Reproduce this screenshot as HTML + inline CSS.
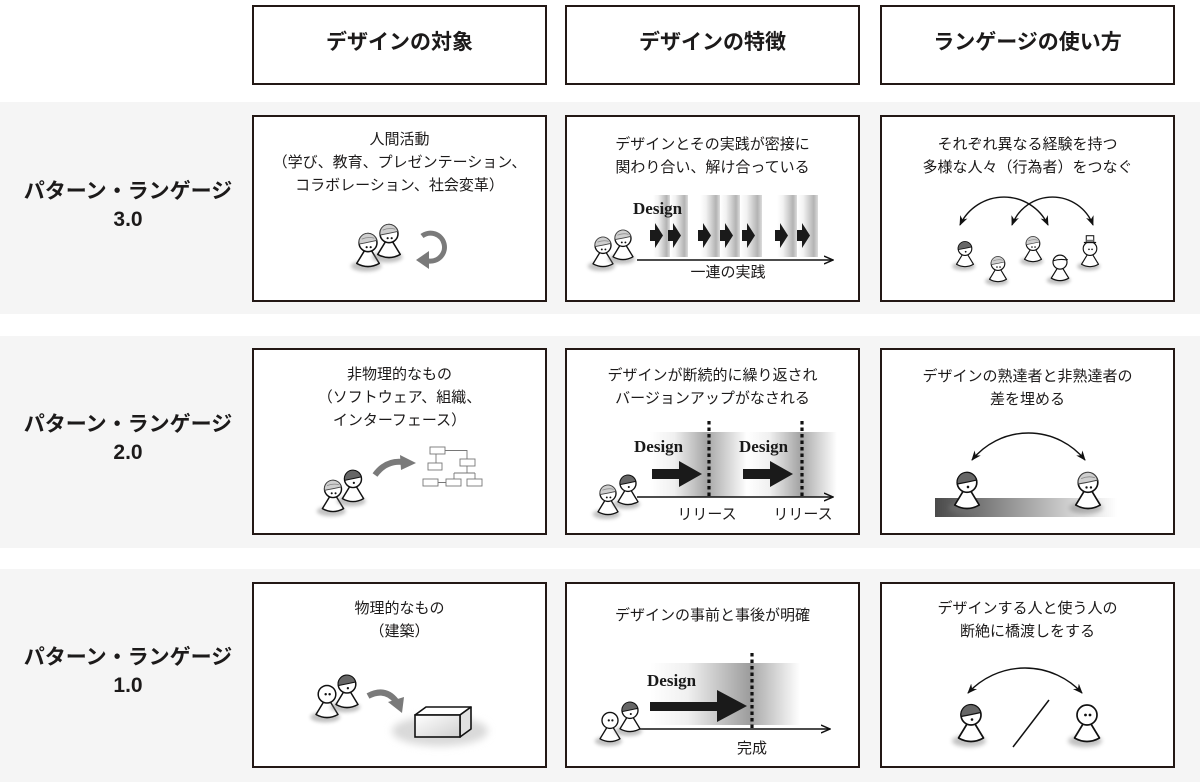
<!DOCTYPE html>
<html lang="ja">
<head>
<meta charset="utf-8">
<style>
  html,body{margin:0;padding:0;}
  body{width:1200px;height:782px;position:relative;background:#fff;overflow:hidden;
    font-family:"Liberation Sans","Noto Sans CJK JP",sans-serif;color:#1c1a1a;}
  .band{position:absolute;left:0;width:1200px;background:#f5f5f5;}
  .box{position:absolute;box-sizing:border-box;border:2px solid #231815;background:#fff;width:295px;}
  .c1{left:252px;} .c2{left:565px;} .c3{left:880px;}
  .hd{top:5px;height:80px;}
  .r1{top:115px;height:187px;}
  .r2{top:348px;height:187px;}
  .r3{top:582px;height:186px;}
  .t{position:absolute;width:295px;text-align:center;font-size:15px;line-height:23px;white-space:nowrap;}
  .tc1{left:252px;} .tc2{left:565px;} .tc3{left:880px;}
  .ht{position:absolute;width:295px;text-align:center;font-size:21px;font-weight:bold;line-height:30px;top:28px;}
  .lab{position:absolute;left:0;width:256px;text-align:center;font-size:21px;font-weight:bold;line-height:28px;}
  svg{position:absolute;left:0;top:0;}
</style>
</head>
<body>
<div class="band" style="top:102px;height:212px;"></div>
<div class="band" style="top:336px;height:212px;"></div>
<div class="band" style="top:569px;height:213px;"></div>

<div class="box c1 hd"></div><div class="box c2 hd"></div><div class="box c3 hd"></div>
<div class="box c1 r1"></div><div class="box c2 r1"></div><div class="box c3 r1"></div>
<div class="box c1 r2"></div><div class="box c2 r2"></div><div class="box c3 r2"></div>
<div class="box c1 r3"></div><div class="box c2 r3"></div><div class="box c3 r3"></div>

<div class="ht tc1">デザインの対象</div>
<div class="ht tc2">デザインの特徴</div>
<div class="ht tc3">ランゲージの使い方</div>

<div class="lab" style="top:178px;">パターン・ランゲージ<br>3.0</div>
<div class="lab" style="top:411px;">パターン・ランゲージ<br>2.0</div>
<div class="lab" style="top:644px;">パターン・ランゲージ<br>1.0</div>

<div class="t tc1" style="top:128px;">人間活動<br>（学び、教育、プレゼンテーション、<br>コラボレーション、社会変革）</div>
<div class="t tc2" style="top:133px;">デザインとその実践が密接に<br>関わり合い、解け合っている</div>
<div class="t tc3" style="top:133px;">それぞれ異なる経験を持つ<br>多様な人々（行為者）をつなぐ</div>

<div class="t tc1" style="top:363px;">非物理的なもの<br>（ソフトウェア、組織、<br>インターフェース）</div>
<div class="t tc2" style="top:365px;line-height:22.5px;">デザインが断続的に繰り返され<br>バージョンアップがなされる</div>
<div class="t tc3" style="top:366px;line-height:22.5px;">デザインの熟達者と非熟達者の<br>差を埋める</div>

<div class="t tc1" style="top:597px;">物理的なもの<br>（建築）</div>
<div class="t tc2" style="top:604px;">デザインの事前と事後が明確</div>
<div class="t tc3" style="top:597px;">デザインする人と使う人の<br>断絶に橋渡しをする</div>

<svg width="1200" height="782" viewBox="0 0 1200 782" xmlns="http://www.w3.org/2000/svg">
  <defs>
    <filter id="bl" x="-50%" y="-100%" width="200%" height="300%"><feGaussianBlur stdDeviation="2.2"/></filter>
    <filter id="bl2" x="-30%" y="-60%" width="160%" height="220%"><feGaussianBlur stdDeviation="4"/></filter>
    <linearGradient id="gs" x1="0" y1="0" x2="1" y2="0">
      <stop offset="0" stop-color="#fff"/><stop offset="0.3" stop-color="#f2f2f2"/>
      <stop offset="0.8" stop-color="#b3b3b3"/><stop offset="1" stop-color="#dcdcdc"/>
    </linearGradient>
    <linearGradient id="gr" x1="0" y1="0" x2="1" y2="0">
      <stop offset="0" stop-color="#fff"/><stop offset="0.25" stop-color="#f0f0f0"/>
      <stop offset="0.6" stop-color="#a2a2a2"/><stop offset="0.64" stop-color="#b2b2b2"/>
      <stop offset="1" stop-color="#fff"/>
    </linearGradient>
    <linearGradient id="gd" x1="0" y1="0" x2="1" y2="0">
      <stop offset="0" stop-color="#fff"/><stop offset="0.25" stop-color="#f0f0f0"/>
      <stop offset="0.67" stop-color="#9c9c9c"/><stop offset="0.7" stop-color="#b0b0b0"/>
      <stop offset="1" stop-color="#fff"/>
    </linearGradient>
    <linearGradient id="gb" x1="0" y1="0" x2="1" y2="0">
      <stop offset="0" stop-color="#4a4a4a"/><stop offset="1" stop-color="#fff"/>
    </linearGradient>
    <linearGradient id="gbox" x1="0" y1="0" x2="1" y2="1">
      <stop offset="0" stop-color="#fff"/><stop offset="1" stop-color="#d0d0d0"/>
    </linearGradient>
    <marker id="ah" viewBox="0 0 10 10" refX="9" refY="5" markerWidth="10" markerHeight="10" markerUnits="userSpaceOnUse" orient="auto-start-reverse">
      <path d="M0,1 L10,5 L0,9 L3,5 Z" fill="#111"/>
    </marker>
    <marker id="oa" viewBox="0 0 10 10" refX="9" refY="5" markerWidth="10" markerHeight="10" markerUnits="userSpaceOnUse" orient="auto">
      <path d="M0,1 L9,5 L0,9" fill="none" stroke="#111" stroke-width="1.5"/>
    </marker>

    <g id="base">
      <ellipse cx="-2" cy="-1" rx="17" ry="6" fill="#777" opacity="0.45" filter="url(#bl)"/>
      <path d="M-4,-18 L-12.5,-4 Q0,3 12.5,-4 L4,-18 Z" fill="#fff" stroke="#111" stroke-width="1.7" stroke-linejoin="round"/>
      <circle cx="0" cy="-27" r="10" fill="#fff" stroke="#111" stroke-width="1.7"/>
    </g>
    <g id="pd">
      <use href="#base"/>
      <path d="M-9.9,-25.5 A10,10 0 0 1 9.7,-29.5 Q1,-27.5 -9.9,-25.5Z" fill="#666" stroke="#111" stroke-width="1.2"/>
      <circle cx="1" cy="-22.5" r="1.3" fill="#111"/>
    </g>
    <g id="pl">
      <use href="#base"/>
      <path d="M-9.9,-25.5 A10,10 0 0 1 9.7,-29.5 Q1,-27.5 -9.9,-25.5Z" fill="#cfcfcf" stroke="#444" stroke-width="1.1"/>
      <path d="M-7,-31 Q0,-34 7,-32" fill="none" stroke="#888" stroke-width="0.9"/>
      <circle cx="-1.5" cy="-22" r="1.2" fill="#111"/><circle cx="3" cy="-22" r="1.2" fill="#111"/>
    </g>
    <g id="pp">
      <use href="#base"/>
      <circle cx="-1.5" cy="-27" r="1.4" fill="#111"/><circle cx="3" cy="-27" r="1.4" fill="#111"/>
    </g>
    <g id="pc">
      <use href="#base"/>
      <path d="M-9.5,-29 Q0,-32 9.5,-30 L11,-31" fill="none" stroke="#111" stroke-width="1.5"/>
    </g>
    <g id="ph">
      <use href="#base"/>
      <rect x="-5.5" y="-46" width="11" height="10" fill="#fff" stroke="#111" stroke-width="1.5"/>
      <rect x="-5.5" y="-40" width="11" height="3" fill="#777"/>
      <path d="M-9,-36 L9,-36" stroke="#111" stroke-width="1.8"/>
      <circle cx="-1.5" cy="-26" r="1.2" fill="#111"/><circle cx="3" cy="-26" r="1.2" fill="#111"/>
    </g>
    <path id="chev" d="M0,7 L5,7 L5,0 L13,12.5 L5,25 L5,18 L0,18 Z" fill="#1a1a1a"/>
  </defs>

  <!-- Row 1, col 1 -->
  <use href="#pl" transform="translate(368,267) scale(0.9)"/>
  <use href="#pl" transform="translate(389,258) scale(0.9)"/>
  <path d="M422,236 A14,14 0 1 1 428.5,261" fill="none" stroke="#7a7a7a" stroke-width="5"/>
  <polygon points="416,260 429,251 429,269" fill="#7a7a7a"/>

  <!-- Row 1, col 2 -->
  <rect x="653" y="195" width="17" height="62" fill="url(#gs)"/>
  <rect x="670" y="195" width="18" height="62" fill="url(#gs)"/>
  <rect x="700" y="195" width="20" height="62" fill="url(#gs)"/>
  <rect x="720" y="195" width="20" height="62" fill="url(#gs)"/>
  <rect x="740" y="195" width="22" height="62" fill="url(#gs)"/>
  <rect x="777" y="195" width="20" height="62" fill="url(#gs)"/>
  <rect x="797" y="195" width="21" height="62" fill="url(#gs)"/>
  <text x="633" y="214" font-family="'Liberation Serif',serif" font-weight="bold" font-size="17" fill="#1a1a1a">Design</text>
  <use href="#chev" x="650" y="223"/><use href="#chev" x="668" y="223"/>
  <use href="#chev" x="698" y="223"/><use href="#chev" x="720" y="223"/><use href="#chev" x="742" y="223"/>
  <use href="#chev" x="775" y="223"/><use href="#chev" x="797" y="223"/>
  <path d="M637,260 L833,260" stroke="#111" stroke-width="1.6" marker-end="url(#oa)"/>
  <use href="#pl" transform="translate(603,267) scale(0.8)"/>
  <use href="#pl" transform="translate(623,260) scale(0.8)"/>
  <text x="728" y="277" text-anchor="middle" font-size="15" font-family="'Liberation Sans','Noto Sans CJK JP',sans-serif" fill="#1c1a1a">一連の実践</text>

  <!-- Row 1, col 3 -->
  <path d="M960,225 A48.6,48.6 0 0 1 1048,225" fill="none" stroke="#111" stroke-width="1.4" marker-start="url(#ah)" marker-end="url(#ah)"/>
  <path d="M1012,225 A43.3,43.3 0 0 1 1093,225" fill="none" stroke="#111" stroke-width="1.4" marker-start="url(#ah)" marker-end="url(#ah)"/>
  <use href="#pd" transform="translate(965,267) scale(0.68)"/>
  <use href="#pl" transform="translate(998,282) scale(0.68)"/>
  <use href="#pl" transform="translate(1033,262) scale(0.68)"/>
  <use href="#pc" transform="translate(1060,281) scale(0.7)"/>
  <use href="#ph" transform="translate(1090,267) scale(0.68)"/>

  <!-- Row 2, col 1 -->
  <use href="#pl" transform="translate(333,512) scale(0.85)"/>
  <use href="#pd" transform="translate(353,502) scale(0.85)"/>
  <path d="M375,475 Q386,460 403,462" fill="none" stroke="#7a7a7a" stroke-width="6"/>
  <polygon points="400,455 416,463 401,470" fill="#7a7a7a"/>
  <g fill="#fff" stroke="#777" stroke-width="0.9">
    <path d="M445,450.5 L467,450.5 L467,459 M436,454 L436,463 M467,466 L467,473 M454,473 L475,473 M454,473 L454,479 M475,473 L475,479 M438,482.5 L446,482.5" fill="none"/>
    <rect x="430" y="447" width="15" height="7"/>
    <rect x="460" y="459" width="15" height="7"/>
    <rect x="428" y="463" width="14" height="7"/>
    <rect x="423" y="479" width="15" height="7"/>
    <rect x="446" y="479" width="15" height="7"/>
    <rect x="467" y="479" width="15" height="7"/>
  </g>

  <!-- Row 2, col 2 -->
  <rect x="650" y="432" width="97" height="65" fill="url(#gr)"/>
  <rect x="747" y="432" width="90" height="65" fill="url(#gr)"/>
  <text x="634" y="452" font-family="'Liberation Serif',serif" font-weight="bold" font-size="17" fill="#1a1a1a">Design</text>
  <text x="739" y="452" font-family="'Liberation Serif',serif" font-weight="bold" font-size="17" fill="#1a1a1a">Design</text>
  <polygon points="652,469 679,469 679,461 702,474 679,487 679,479 652,479" fill="#1a1a1a"/>
  <polygon points="743,469 770,469 770,461 793,474 770,487 770,479 743,479" fill="#1a1a1a"/>
  <path d="M709,421 L709,497 M802,421 L802,497" stroke="#111" stroke-width="3.2" stroke-dasharray="3.5 3"/>
  <path d="M637,497 L833,497" stroke="#111" stroke-width="1.6" marker-end="url(#oa)"/>
  <use href="#pl" transform="translate(608,515) scale(0.8)"/>
  <use href="#pd" transform="translate(628,505) scale(0.8)"/>
  <text x="707" y="519" text-anchor="middle" font-size="15" font-family="'Liberation Sans','Noto Sans CJK JP',sans-serif" fill="#1c1a1a">リリース</text>
  <text x="803" y="519" text-anchor="middle" font-size="15" font-family="'Liberation Sans','Noto Sans CJK JP',sans-serif" fill="#1c1a1a">リリース</text>

  <!-- Row 2, col 3 -->
  <rect x="935" y="498" width="182" height="19" fill="url(#gb)"/>
  <path d="M972,460 A72.6,72.6 0 0 1 1085,460" fill="none" stroke="#111" stroke-width="1.4" marker-start="url(#ah)" marker-end="url(#ah)"/>
  <use href="#pd" transform="translate(967,509) scale(0.98)"/>
  <use href="#pl" transform="translate(1088,509) scale(0.98)"/>

  <!-- Row 3, col 1 -->
  <use href="#pp" transform="translate(327,718) scale(0.88)"/>
  <use href="#pd" transform="translate(347,708) scale(0.88)"/>
  <path d="M368,696 Q385,687 396,701" fill="none" stroke="#7a7a7a" stroke-width="6"/>
  <polygon points="388,702 404,697 402,713" fill="#7a7a7a"/>
  <ellipse cx="440" cy="731" rx="48" ry="15" fill="#d9d9d9" filter="url(#bl2)"/>
  <polygon points="415,715 426,707 471,707 460,715" fill="#fff" stroke="#111" stroke-width="1.6" stroke-linejoin="round"/>
  <polygon points="460,715 471,707 471,729 460,737" fill="#e0e0e0" stroke="#111" stroke-width="1.6" stroke-linejoin="round"/>
  <rect x="415" y="715" width="45" height="22" fill="url(#gbox)" stroke="#111" stroke-width="1.6"/>

  <!-- Row 3, col 2 -->
  <rect x="650" y="663" width="150" height="62" fill="url(#gd)"/>
  <text x="647" y="686" font-family="'Liberation Serif',serif" font-weight="bold" font-size="17" fill="#1a1a1a">Design</text>
  <polygon points="650,702 717,702 717,690 747,706 717,722 717,711 650,711" fill="#1a1a1a"/>
  <path d="M752,653 L752,730" stroke="#111" stroke-width="3.2" stroke-dasharray="3.5 3"/>
  <path d="M638,729 L830,729" stroke="#111" stroke-width="1.6" marker-end="url(#oa)"/>
  <use href="#pp" transform="translate(610,742) scale(0.8)"/>
  <use href="#pd" transform="translate(630,732) scale(0.8)"/>
  <text x="752" y="753" text-anchor="middle" font-size="15" font-family="'Liberation Sans','Noto Sans CJK JP',sans-serif" fill="#1c1a1a">完成</text>

  <!-- Row 3, col 3 -->
  <path d="M968,693 A77.5,77.5 0 0 1 1082,693" fill="none" stroke="#111" stroke-width="1.4" marker-start="url(#ah)" marker-end="url(#ah)"/>
  <use href="#pd" transform="translate(971,742) scale(1)"/>
  <use href="#pp" transform="translate(1087,742) scale(1)"/>
  <path d="M1049,700 L1013,747" stroke="#111" stroke-width="1.5"/>
</svg>
</body>
</html>
